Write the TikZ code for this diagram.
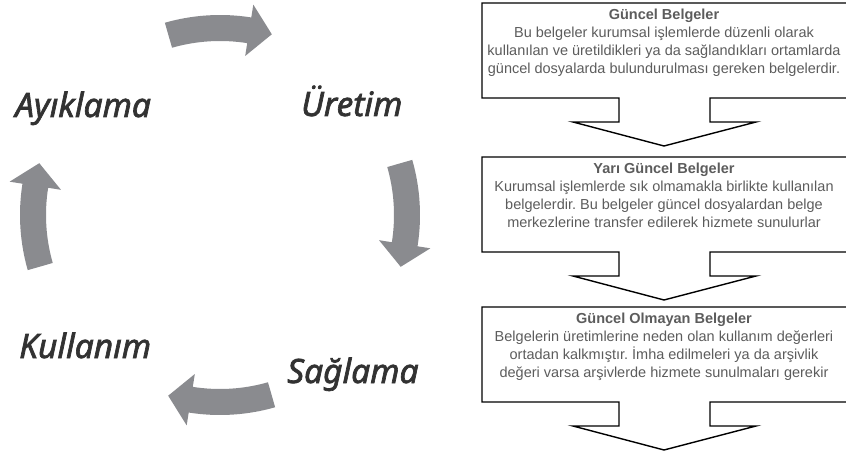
\documentclass[tikz,border=0pt]{standalone}
\usepackage{fontspec}
\setmainfont{Liberation Sans}
\newfontfamily\lblfont[ItalicFeatures={FakeBold=2.0}]{Noto Sans}
\frenchspacing
\definecolor{arrowgray}{RGB}{138,139,143}
\definecolor{txtgray}{RGB}{92,92,92}
\definecolor{lblgray}{RGB}{50,50,50}
\newcommand\cyclearrow[1]{%
  \fill[arrowgray] ({#1}:200) arc[start angle=#1, end angle=#1-25, radius=200]
    -- ({#1-25}:213) -- ({#1-32}:188) -- ({#1-25}:161) -- ({#1-25}:174)
    arc[start angle=#1-25, end angle=#1, radius=174] -- cycle;}
\newcommand\calloutbox[2]{% #1 top, #2 bottom
  \draw[boxline] (619,#2) -- (482,#2) -- (482,#1) -- (852,#1) -- (852,#2) -- (710,#2)
    -- (710,#2-24) -- (756,#2-24) -- (664,#2-48) -- (573,#2-24) -- (619,#2-24) -- cycle;}
\begin{document}
\begin{tikzpicture}[x=1pt,y=1pt,
  boxline/.style={draw=black, line width=1.4pt, line join=miter},
  boxtext/.style={anchor=north, align=center, inner sep=0pt, text=txtgray,
    font=\fontsize{14.5}{18}\selectfont},
  lbl/.style={anchor=base west, inner sep=0pt, text=lblgray,
    font=\lblfont\itshape\fontsize{33.5}{36}\selectfont}]
\useasboundingbox (0,0) rectangle (846,456);
\clip (0,0) rectangle (846,456);
% cycle arrows
\begin{scope}[shift={(220,241)}]
  \cyclearrow{106}
  \cyclearrow{16}
  \cyclearrow{-74}
  \cyclearrow{196}
\end{scope}
% cycle labels
\node[lbl] (ayik) at (15,339) {Ayıklama};
\node[lbl] (uret) at (301,340) {Üretim};
\node[lbl] (kull) at (19,98) {Kullanım};
\node[lbl] (sagl) at (287,73) {Sağlama};
% callouts
\calloutbox{453}{358}
\calloutbox{299}{204}
\calloutbox{149}{54}
\node[boxtext] (t1) at (664,447) {\textbf{Güncel Belgeler}\\
  Bu belgeler kurumsal işlemlerde düzenli olarak\\
  kullanılan ve üretildikleri ya da sağlandıkları ortamlarda\\
  güncel dosyalarda bulundurulması gereken belgelerdir.};
\node[boxtext] (t2) at (664,293) {\textbf{Yarı Güncel Belgeler}\\
  Kurumsal işlemlerde sık olmamakla birlikte kullanılan\\
  belgelerdir. Bu belgeler güncel dosyalardan belge\\
  merkezlerine transfer edilerek hizmete sunulurlar};
\node[boxtext] (t3) at (664,143) {\textbf{Güncel Olmayan Belgeler}\\
  Belgelerin üretimlerine neden olan kullanım değerleri\\
  ortadan kalkmıştır. İmha edilmeleri ya da arşivlik\\
  değeri varsa arşivlerde hizmete sunulmaları gerekir};
\end{tikzpicture}
\end{document}
